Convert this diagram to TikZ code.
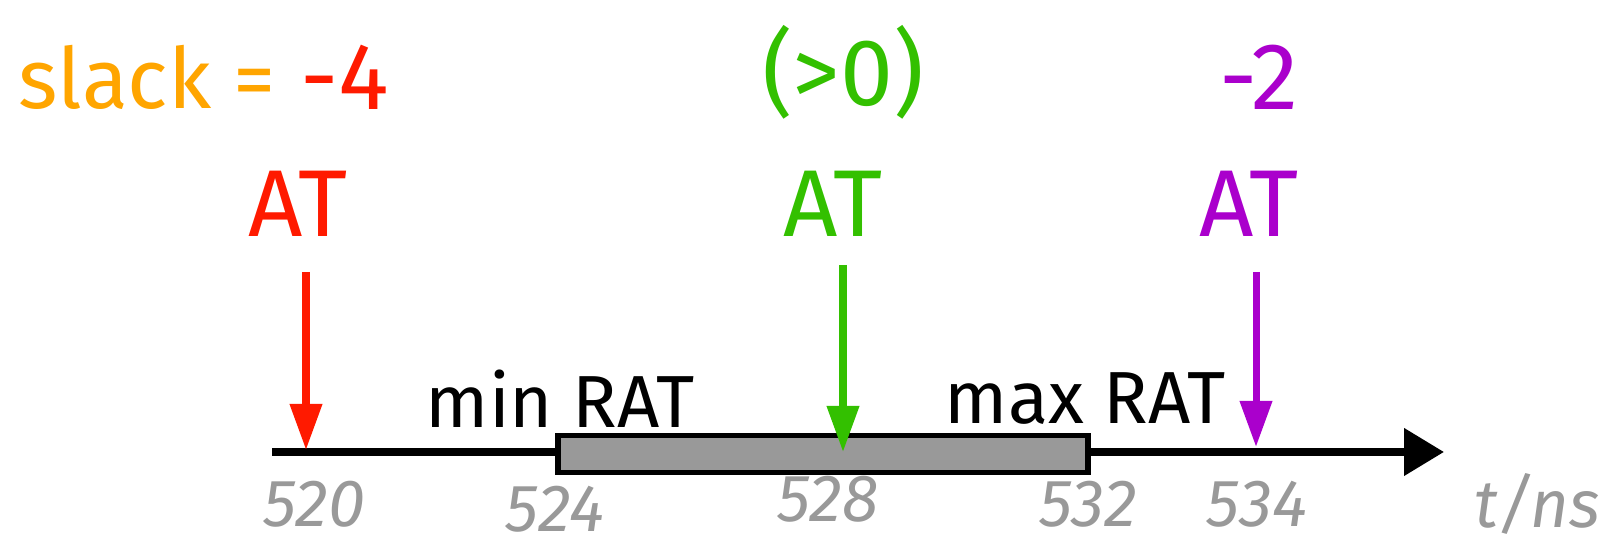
\documentclass[tikz,border=0pt]{standalone}
\usepackage{fontspec}
\setmainfont{Fira Sans}
\usetikzlibrary{arrows.meta}
\definecolor{slackorange}{HTML}{FFA500}
\definecolor{atred}{HTML}{FF1A00}
\definecolor{atgreen}{HTML}{33C000}
\definecolor{atpurple}{HTML}{AA00CC}
\definecolor{tickgray}{HTML}{999999}
\definecolor{boxgray}{HTML}{999999}

\begin{document}
\begin{tikzpicture}[x=0.1mm,y=0.1mm,
  arr/.style={-{Triangle[length=4.6mm,width=3.1mm]},line width=2pt},
  big/.style={font=\fontsize{27}{30}\selectfont},
  rat/.style={font=\fontsize{21}{25}\selectfont},
  tick/.style={font=\fontsize{19}{22}\selectfont\itshape,text=tickgray}]
  \useasboundingbox (0,0) rectangle (1612,549);

  % Time axis
  \coordinate (axstart) at (272,97);
  \coordinate (axend) at (1444,97);
  \draw[line width=2.2pt,-{Triangle[length=4mm,width=4.6mm]}] (axstart)--(axend);
  \node[tick,anchor=west] (tns) at (1462,45) {t/ns};

  % Required arrival window
  \node[draw=black,line width=1.5pt,fill=boxgray,minimum width=53mm,minimum height=3.7mm,
    inner sep=0pt] (window) at (823,95) {};
  \node[rat] (minrat) at (560,150) {min RAT};
  \node[rat] (maxrat) at (1085,150) {max RAT};

  % Tick labels
  \node[tick] (t520) at (314,45) {520};
  \node[tick] (t524) at (555,40) {524};
  \node[tick] (t528) at (828,50) {528};
  \node[tick] (t532) at (1088,45) {532};
  \node[tick] (t534) at (1257,45) {534};

  % Arrival times
  \node[big,text=atred] (atr) at (298,345) {AT};
  \node[big,text=atgreen] (atg) at (833,345) {AT};
  \node[big,text=atpurple] (atp) at (1249,345) {AT};
  \coordinate (rtop) at (306,277);
  \coordinate (rbot) at (306,99);
  \coordinate (gtop) at (843,284);
  \coordinate (gbot) at (843,97);
  \coordinate (ptop) at (1256,277);
  \coordinate (pbot) at (1256,102);
  \draw[arr,atred] (rtop)--(rbot);
  \draw[arr,atgreen] (gtop)--(gbot);
  \draw[arr,atpurple] (ptop)--(pbot);

  % Slack values
  \node[font=\fontsize{24}{28}\selectfont,anchor=west,text=slackorange] (slack) at (6,472) {slack =};
  \node[big,anchor=west,text=atred] (sred) at (slack.east) {-4};
  \node[big,text=atgreen] (sgreen) at (843,477) {(>0)};
  \node[big,text=atpurple] (spurple) at (1259,472) {-2};
\end{tikzpicture}
\end{document}
